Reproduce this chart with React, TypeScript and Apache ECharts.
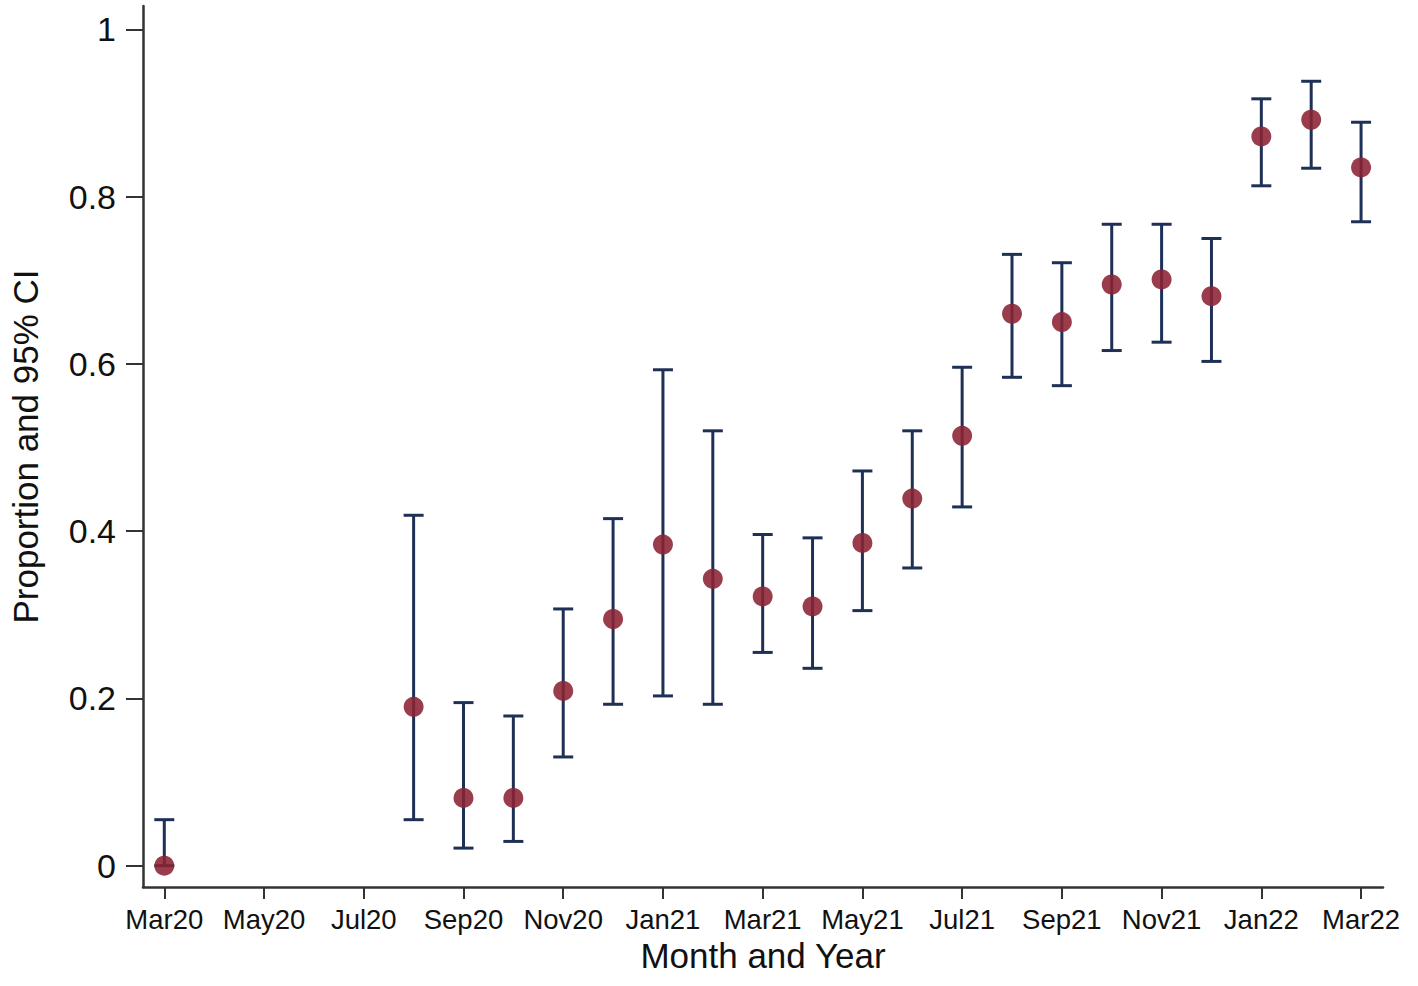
import React, { useEffect, useRef } from "react";
import * as echarts from "echarts";

// Months from Mar20 (index 0) to Mar22 (index 24)
const monthLabels = [
  "Mar20", "Apr20", "May20", "Jun20", "Jul20", "Aug20", "Sep20", "Oct20", "Nov20", "Dec20",
  "Jan21", "Feb21", "Mar21", "Apr21", "May21", "Jun21", "Jul21", "Aug21", "Sep21", "Oct21",
  "Nov21", "Dec21", "Jan22", "Feb22", "Mar22",
];
const xTickIndices = [0, 2, 4, 6, 8, 10, 12, 14, 16, 18, 20, 22, 24];
const yTicks = [0, 0.2, 0.4, 0.6, 0.8, 1];

// Observed months (index into monthLabels)
const pointMonths = [0, 5, 6, 7, 8, 9, 10, 11, 12, 13, 14, 15, 16, 17, 18, 19, 20, 21, 22, 23, 24];
const proportion = [
  0, 0.19, 0.081, 0.081, 0.209, 0.295, 0.384, 0.343, 0.322, 0.31, 0.386,
  0.439, 0.514, 0.66, 0.65, 0.695, 0.701, 0.681, 0.872, 0.892, 0.835,
];
const ciLower = [
  0, 0.055, 0.021, 0.029, 0.13, 0.193, 0.203, 0.193, 0.255, 0.236, 0.305,
  0.356, 0.429, 0.584, 0.574, 0.616, 0.626, 0.603, 0.813, 0.834, 0.77,
];
const ciUpper = [
  0.055, 0.419, 0.195, 0.179, 0.307, 0.415, 0.593, 0.52, 0.396, 0.392, 0.472,
  0.52, 0.596, 0.731, 0.721, 0.767, 0.767, 0.75, 0.917, 0.938, 0.889,
];

const FONT = "Arial, 'Liberation Sans', Helvetica, sans-serif";
const NAVY = "#1f3056";
const DOT = "#8b2233";

export default function App() {
  const ref = useRef<HTMLDivElement>(null);

  useEffect(() => {
    document.body.style.margin = "0";
    if (!ref.current) return;
    const chart = echarts.init(ref.current, undefined, { renderer: "svg" });

    const ciData = pointMonths.map((m, i) => [m, ciLower[i], ciUpper[i]]);
    const pointData = pointMonths.map((m, i) => [m, proportion[i]]);

    chart.setOption({
      animation: false,
      backgroundColor: "#ffffff",
      grid: { left: 142, right: 35, top: 6, bottom: 99, containLabel: false },
      xAxis: {
        type: "value",
        min: -0.427,
        max: 24.44,
        name: "Month and Year",
        nameLocation: "middle",
        nameGap: 50,
        nameTextStyle: { fontFamily: FONT, fontSize: 35, color: "#111" },
        axisLine: { show: true, onZero: false, lineStyle: { color: "#333", width: 2.5 } },
        axisTick: {
          show: true,
          length: 12,
          lineStyle: { color: "#333", width: 2 },
          customValues: xTickIndices,
        },
        axisLabel: {
          customValues: xTickIndices,
          margin: 18,
          fontFamily: FONT,
          fontSize: 27.5,
          color: "#111",
          formatter: (v: number) => monthLabels[Math.round(v)] ?? "",
        },
        splitLine: { show: false },
      },
      yAxis: {
        type: "value",
        min: -0.0255,
        max: 1.028,
        name: "Proportion and 95% CI",
        nameLocation: "middle",
        nameGap: 100,
        nameRotate: 90,
        nameTextStyle: { fontFamily: FONT, fontSize: 35, color: "#111" },
        axisLine: { show: true, onZero: false, lineStyle: { color: "#333", width: 2.5 } },
        axisTick: {
          show: true,
          length: 17,
          lineStyle: { color: "#333", width: 2 },
          customValues: yTicks,
        },
        axisLabel: {
          customValues: yTicks,
          margin: 27,
          fontFamily: FONT,
          fontSize: 34,
          color: "#111",
          formatter: (v: number) => String(Math.round(v * 10) / 10),
        },
        splitLine: { show: false },
      },
      series: [
        {
          type: "custom",
          name: "95% CI",
          z: 2,
          data: ciData,
          renderItem: (params: any, api: any) => {
            const x = api.value(0);
            const lo = api.coord([x, api.value(1)]);
            const hi = api.coord([x, api.value(2)]);
            const half = 10;
            const style = { stroke: NAVY, lineWidth: 3 };
            return {
              type: "group",
              children: [
                { type: "line", shape: { x1: lo[0], y1: lo[1], x2: hi[0], y2: hi[1] }, style },
                { type: "line", shape: { x1: hi[0] - half, y1: hi[1], x2: hi[0] + half, y2: hi[1] }, style },
                { type: "line", shape: { x1: lo[0] - half, y1: lo[1], x2: lo[0] + half, y2: lo[1] }, style },
              ],
            };
          },
        },
        {
          type: "scatter",
          name: "Proportion",
          z: 3,
          data: pointData,
          symbol: "circle",
          symbolSize: 20,
          itemStyle: { color: DOT, opacity: 0.88 },
        },
      ],
    });

    return () => chart.dispose();
  }, []);

  return <div ref={ref} style={{ width: 1418, height: 986 }} />;
}
